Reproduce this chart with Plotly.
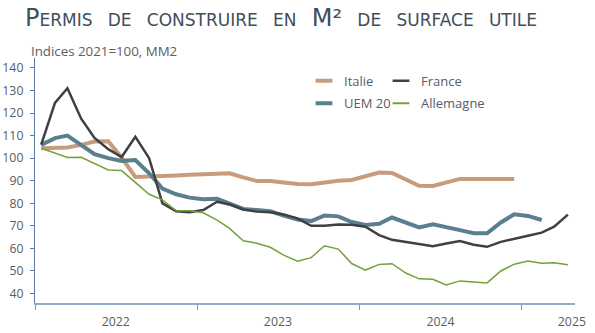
import pandas as pd
import plotly.graph_objects as go

months = pd.date_range("2022-01-01", periods=40, freq="MS") + pd.Timedelta(days=14)

italie = [104.4, 104.7, 104.7, 105.9, 107.4, 107.5, 100.3, 91.7, 91.8, 92.1,
          92.3, 92.6, 92.9, 93.3, 93.3, 91.5, 89.9, 89.9, 89.2, 88.5,
          88.4, 89.3, 90.0, 90.3, 91.8, 93.6, 93.4, 90.4, 87.8, 87.7,
          89.3, 90.8, 90.8, 90.8, 90.8, 90.8]
france = [106, 124.5, 131, 117.5, 109, 104, 100.5, 109.5, 100, 80,
          76.5, 76, 77, 80.7, 79.5, 77.3, 76.3, 76, 75, 73.3,
          70, 70, 70.6, 70.5, 69.6, 65.9, 63.8, 62.8, 61.9, 61,
          62.2, 63.3, 61.6, 60.7, 62.9, 64.1, 65.6, 67, 69.6, 75]
uem20 = [105.9, 108.9, 110, 105.9, 101.8, 100, 98.8, 99.2, 93.3, 86.5,
         84, 82.5, 81.8, 82, 80, 77.5, 77, 76.5, 74.5, 72.8,
         72.1, 74.6, 74.2, 71.7, 70.4, 70.9, 73.7, 71.7, 69.3, 70.7,
         69.6, 68.1, 66.7, 66.7, 71.5, 75.1, 74.4, 72.6]
allemagne = [104.4, 102.2, 100.3, 100.4, 97.5, 94.8, 94.5, 89.2, 84, 81.5,
             76.7, 76.7, 75.8, 72.5, 68.9, 63.4, 62.3, 60.5, 57, 54.3,
             55.9, 61.2, 59.7, 53.3, 50.4, 52.9, 53.2, 49.1, 46.5, 46.3,
             43.8, 45.6, 45.1, 44.7, 50, 53, 54.4, 53.4, 53.6, 52.8]

year_labels = ["2022", "2023", "2024", "2025"]
year_label_pos = ["2022-07-02", "2023-07-02", "2024-07-02", "2025-04-24"]
y_ticks = [40, 50, 60, 70, 80, 90, 100, 110, 120, 130, 140]

FONT = "Open Sans"
TXT = "#595d66"

# plot area in pixels: x 35..575, y 58..303
def px_x(p):
    return (p - 35) / 540

def px_y(p):
    return (303 - p) / 245

series = [
    ("Italie", italie, "#C69C7C", 4, "legend"),
    ("UEM 20", uem20, "#5A7F8E", 4, "legend3"),
    ("France", france, "#3F3F44", 2.5, "legend2"),
    ("Allemagne", allemagne, "#76A03C", 1.5, "legend4"),
]

fig = go.Figure()
for name, vals, color, width, leg in series:
    fig.add_trace(go.Scatter(x=months[:len(vals)], y=vals, name=name, mode="lines",
                             line=dict(color=color, width=width),
                             legendgroup=name, showlegend=False))
for name, vals, color, width, leg in series:
    # legend-only entry with a short line swatch
    fig.add_trace(go.Scatter(x=[None], y=[None], name=name, mode="markers",
                             marker=dict(symbol="line-ew-open", size=12, color=color,
                                         line=dict(width=max(width, 2), color=color)),
                             legendgroup=name, legend=leg, showlegend=True))

leg_common = dict(orientation="h", xanchor="left", yanchor="middle", bgcolor="rgba(0,0,0,0)",
                  font=dict(family=FONT, size=13, color=TXT), itemwidth=30)

fig.update_layout(
    width=595, height=333,
    margin=dict(l=35, r=20, t=58, b=30, autoexpand=False),
    paper_bgcolor="white", plot_bgcolor="white",
    showlegend=True,
    title=dict(text="Permis\u00a0 de\u00a0 construire\u00a0 en\u00a0 M²\u00a0 de\u00a0 surface\u00a0 utile",
               font=dict(family="DejaVu Sans", size=24, color="#404E5C", variant="small-caps"),
               xref="container", yref="container", x=25/595, xanchor="left",
               y=1-9/333, yanchor="top", pad=dict(l=0, t=0, b=0, r=0)),
    legend=dict(x=px_x(304), y=px_y(80.7), **leg_common),
    legend2=dict(x=px_x(381), y=px_y(80.7), **leg_common),
    legend3=dict(x=px_x(304), y=px_y(103.3), **leg_common),
    legend4=dict(x=px_x(381), y=px_y(103.3), **leg_common),
    xaxis=dict(type="date", range=["2022-01-01", "2025-05-01"], automargin=False,
               showgrid=False, zeroline=False,
               showline=True, linecolor="#8FA9C9", linewidth=1.5,
               tickvals=year_label_pos, ticktext=year_labels, ticks="",
               ticklabelstandoff=6,
               tickfont=dict(family=FONT, size=12.3, color=TXT),
               minor=dict(ticks="outside", tick0="2022-01-01", dtick="M12",
                          ticklen=5, tickcolor="#7F96B8", tickwidth=1, showgrid=False)),
    yaxis=dict(range=[35.8, 144.4], tickvals=y_ticks, showgrid=False, zeroline=False,
               automargin=False,
               showline=True, linecolor="#5B7BA6", linewidth=1.2,
               ticks="outside", ticklen=4, tickcolor="#5B7BA6",
               ticklabelstandoff=4,
               tickfont=dict(family=FONT, size=12.3, color=TXT)),
    annotations=[dict(text="Indices 2021=100, MM2", xref="paper", yref="paper",
                      x=px_x(29), y=px_y(40), xanchor="left", yanchor="top", showarrow=False,
                      font=dict(family=FONT, size=13.3, color=TXT))],
)

fig.write_html("out.html")
